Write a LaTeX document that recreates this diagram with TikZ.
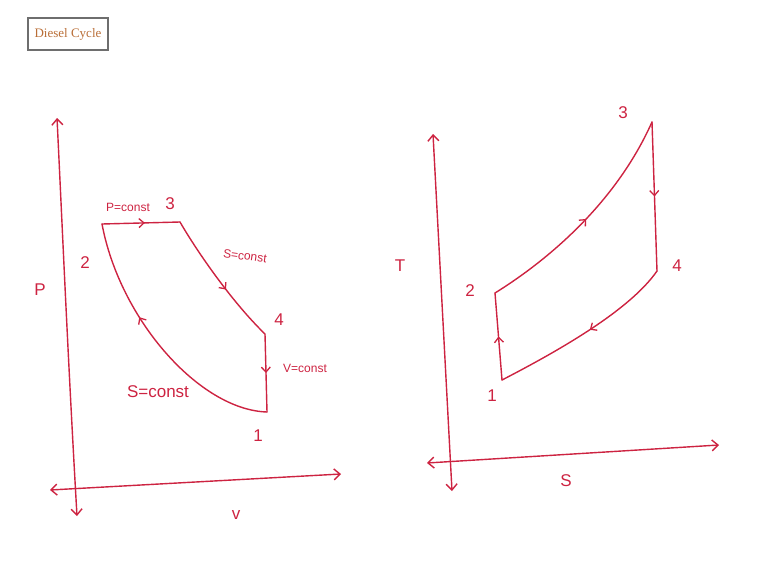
\documentclass[tikz,border=0pt]{standalone}
\usepackage{fontspec}
\setmainfont{Liberation Serif}
\newfontfamily\handfont{Liberation Sans}
\usetikzlibrary{arrows.meta,decorations.markings}
\definecolor{ink}{RGB}{205,35,65}
\definecolor{titlecol}{RGB}{185,110,55}
\definecolor{boxcol}{RGB}{110,110,110}
\tikzset{
  pen/.style={draw=ink, line width=1.4pt, line cap=round, line join=round},
  axisline/.style={pen, {Straight Barb[length=6pt,width=11pt]}-{Straight Barb[length=6pt,width=11pt]}},
  midarrow/.style={postaction={decorate}, decoration={markings, mark=at position #1 with {\arrow[ink,line width=1.3pt]{Straight Barb[length=5pt,width=9pt]}}}},
  lbl/.style={text=ink, font=\handfont\fontsize{17}{20}\selectfont, inner sep=1pt},
  smalllbl/.style={text=ink, font=\handfont\fontsize{12}{14}\selectfont, inner sep=1pt},
}
\begin{document}
\begin{tikzpicture}[x=1pt,y=-1pt]
\useasboundingbox (0,0) rectangle (761,568);
% title
\node[draw=boxcol, line width=1.8pt, text=titlecol, font=\fontsize{13}{15}\selectfont, inner sep=3pt, minimum width=80pt, minimum height=32pt] (title) at (68,34) {Diesel Cycle};

% ---------- P-v diagram ----------
\coordinate (pTop) at (57,118);
\coordinate (pBot) at (77,516);
\coordinate (vLeft) at (50,490);
\coordinate (vRight) at (341,474);
\draw[axisline] (pBot) .. controls (68,360) and (62,220) .. (pTop);
\draw[axisline] (vLeft) -- (vRight);
\node[lbl] (Plab) at (40,290) {P};
\node[lbl] (vlab) at (236,515) {v};

\coordinate (a2) at (102,224);
\coordinate (a3) at (180,222);
\coordinate (a4) at (265,334);
\coordinate (a1) at (267,412);
\draw[pen, midarrow=0.55] (a2) -- (a3);
\draw[pen, midarrow=0.58] (a3) .. controls (195,248) and (230,300) .. (a4);
\draw[pen, midarrow=0.5] (a4) -- (a1);
\draw[pen, midarrow=0.62] (a1) .. controls (200,410) and (120,320) .. (a2);

\node[lbl] (n2a) at (85,263) {2};
\node[lbl] (n3a) at (170,204) {3};
\node[lbl] (n4a) at (279,320) {4};
\node[lbl] (n1a) at (258,436) {1};
\node[smalllbl] (c23) at (128,207) {P=const};
\node[smalllbl, rotate=-8] (c34) at (245,256) {S=const};
\node[smalllbl] (c41) at (305,368) {V=const};
\node[lbl] (c12) at (158,392) {S=const};

% ---------- T-s diagram ----------
\coordinate (tTop) at (433,134);
\coordinate (tBot) at (452,491);
\coordinate (sLeft) at (427,463);
\coordinate (sRight) at (719,445);
\draw[axisline] (tBot) -- (tTop);
\draw[axisline] (sLeft) -- (sRight);
\node[lbl] (Tlab) at (400,266) {T};
\node[lbl] (Slab) at (566,481) {S};

\coordinate (b1) at (502,380);
\coordinate (b2) at (495,293);
\coordinate (b3) at (652,122);
\coordinate (b4) at (657,271);
\draw[pen, midarrow=0.5] (b1) -- (b2);
\draw[pen, midarrow=0.5] (b2) .. controls (545,262) and (615,205) .. (b3);
\draw[pen, midarrow=0.5] (b3) -- (b4);
\draw[pen, midarrow=0.47] (b4) .. controls (630,310) and (560,350) .. (b1);

\node[lbl] (n1b) at (492,396) {1};
\node[lbl] (n2b) at (470,291) {2};
\node[lbl] (n3b) at (623,113) {3};
\node[lbl] (n4b) at (677,266) {4};
\end{tikzpicture}
\end{document}
